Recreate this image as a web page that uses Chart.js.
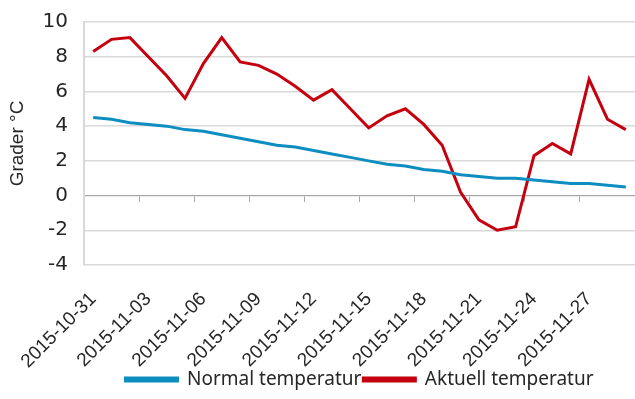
<!DOCTYPE html>
<html>
<head>
  <title>Temperatur</title>
  <script src="https://cdn.jsdelivr.net/npm/chart.js"></script>
  <style>
    html, body { margin: 0; padding: 0; background: #fff; }
    #wrap { width: 635px; height: 399px; }
  </style>
</head>
<body>
  <div id="wrap"><canvas id="tempChart"></canvas></div>

  <script>
    var dates = [
      "2015-10-31", "2015-11-01", "2015-11-02", "2015-11-03", "2015-11-04", "2015-11-05",
      "2015-11-06", "2015-11-07", "2015-11-08", "2015-11-09", "2015-11-10", "2015-11-11",
      "2015-11-12", "2015-11-13", "2015-11-14", "2015-11-15", "2015-11-16", "2015-11-17",
      "2015-11-18", "2015-11-19", "2015-11-20", "2015-11-21", "2015-11-22", "2015-11-23",
      "2015-11-24", "2015-11-25", "2015-11-26", "2015-11-27", "2015-11-28", "2015-11-29"
    ];
    var normalTemp = [4.5, 4.4, 4.2, 4.1, 4.0, 3.8, 3.7, 3.5, 3.3, 3.1, 2.9, 2.8, 2.6, 2.4, 2.2,
                      2.0, 1.8, 1.7, 1.5, 1.4, 1.2, 1.1, 1.0, 1.0, 0.9, 0.8, 0.7, 0.7, 0.6, 0.5];
    var actualTemp = [8.3, 9.0, 9.1, 8.0, 6.9, 5.6, 7.6, 9.1, 7.7, 7.5, 7.0, 6.3, 5.5, 6.1, 5.0,
                      3.9, 4.6, 5.0, 4.1, 2.9, 0.2, -1.4, -2.0, -1.8, 2.3, 3.0, 2.4, 6.7, 4.4, 3.8];
    var seriesNames = ["Normal temperatur", "Aktuell temperatur"];
    var yTitle = "Grader \u00B0C";
    var labelEvery = 3;

    var blue = "#0d8dc0";
    var red = "#c5000f";
    var gridColor = "#d9d9d9";
    var axisColor = "#a6a6a6";

    var ctx = document.getElementById("tempChart").getContext("2d");

    new Chart(ctx, {
      type: "line",
      data: {
        labels: dates,
        datasets: [{
          label: seriesNames[0],
          data: normalTemp,
          borderColor: blue,
          backgroundColor: blue,
          borderWidth: 3,
          pointRadius: 0,
          tension: 0
        }, {
          label: seriesNames[1],
          data: actualTemp,
          borderColor: red,
          backgroundColor: red,
          borderWidth: 3,
          pointRadius: 0,
          tension: 0
        }]
      },
      options: {
        responsive: true,
        maintainAspectRatio: false,
        animation: false,
        layout: { padding: { left: 6, top: 22, right: 0, bottom: 0 } },
        plugins: {
          tooltip: { enabled: false },
          legend: {
            position: "bottom",
            fullSize: false,
            labels: {
              font: { family: "'Noto Sans', sans-serif", size: 19 },
              color: "#262626",
              boxWidth: 52,
              boxHeight: 3,
              padding: 2
            }
          }
        },
        scales: {
          x: {
            offset: true,
            grid: { display: false, drawTicks: false },
            border: { display: false },
            ticks: {
              autoSkip: false,
              minRotation: 45,
              maxRotation: 45,
              padding: 23,
              color: "#262626",
              font: { family: "'Liberation Sans', Arial, sans-serif", size: 19 },
              callback: function(value, index) {
                return index % labelEvery === 0 ? this.getLabelForValue(value) : "";
              }
            },
            // fixed axis height, no extra side padding for the rotated labels
            afterFit: function(s) {
              s.height = 103;
              s.paddingLeft = 0;
              s.paddingRight = 0;
              s.paddingTop = 0;
              s.paddingBottom = 0;
            }
          },
          x2: {
            // zero line with tick marks every third day
            type: "category",
            position: { y: 0 },
            offset: true,
            border: { color: axisColor, width: 1 },
            grid: {
              offset: true,
              drawOnChartArea: false,
              drawTicks: true,
              tickLength: 6,
              tickColor: function(c) {
                return c.index % labelEvery === 0 ? axisColor : "rgba(0,0,0,0)";
              }
            },
            ticks: { display: false }
          },
          y: {
            min: -4,
            max: 10,
            border: { color: gridColor, width: 2 },
            grid: { color: gridColor, lineWidth: 1.5, drawTicks: false },
            ticks: {
              stepSize: 2,
              padding: 16,
              color: "#262626",
              font: { family: "'DejaVu Sans', sans-serif", size: 20 }
            },
            title: {
              display: true,
              text: yTitle,
              color: "#262626",
              padding: { top: 0, bottom: 14 },
              font: { family: "'Liberation Sans', Arial, sans-serif", size: 19 }
            },
            afterFit: function(s) {
              s.width = 78;
              s.paddingTop = 0;
              s.paddingBottom = 0;
            }
          }
        }
      }
    });
  </script>
</body>
</html>
